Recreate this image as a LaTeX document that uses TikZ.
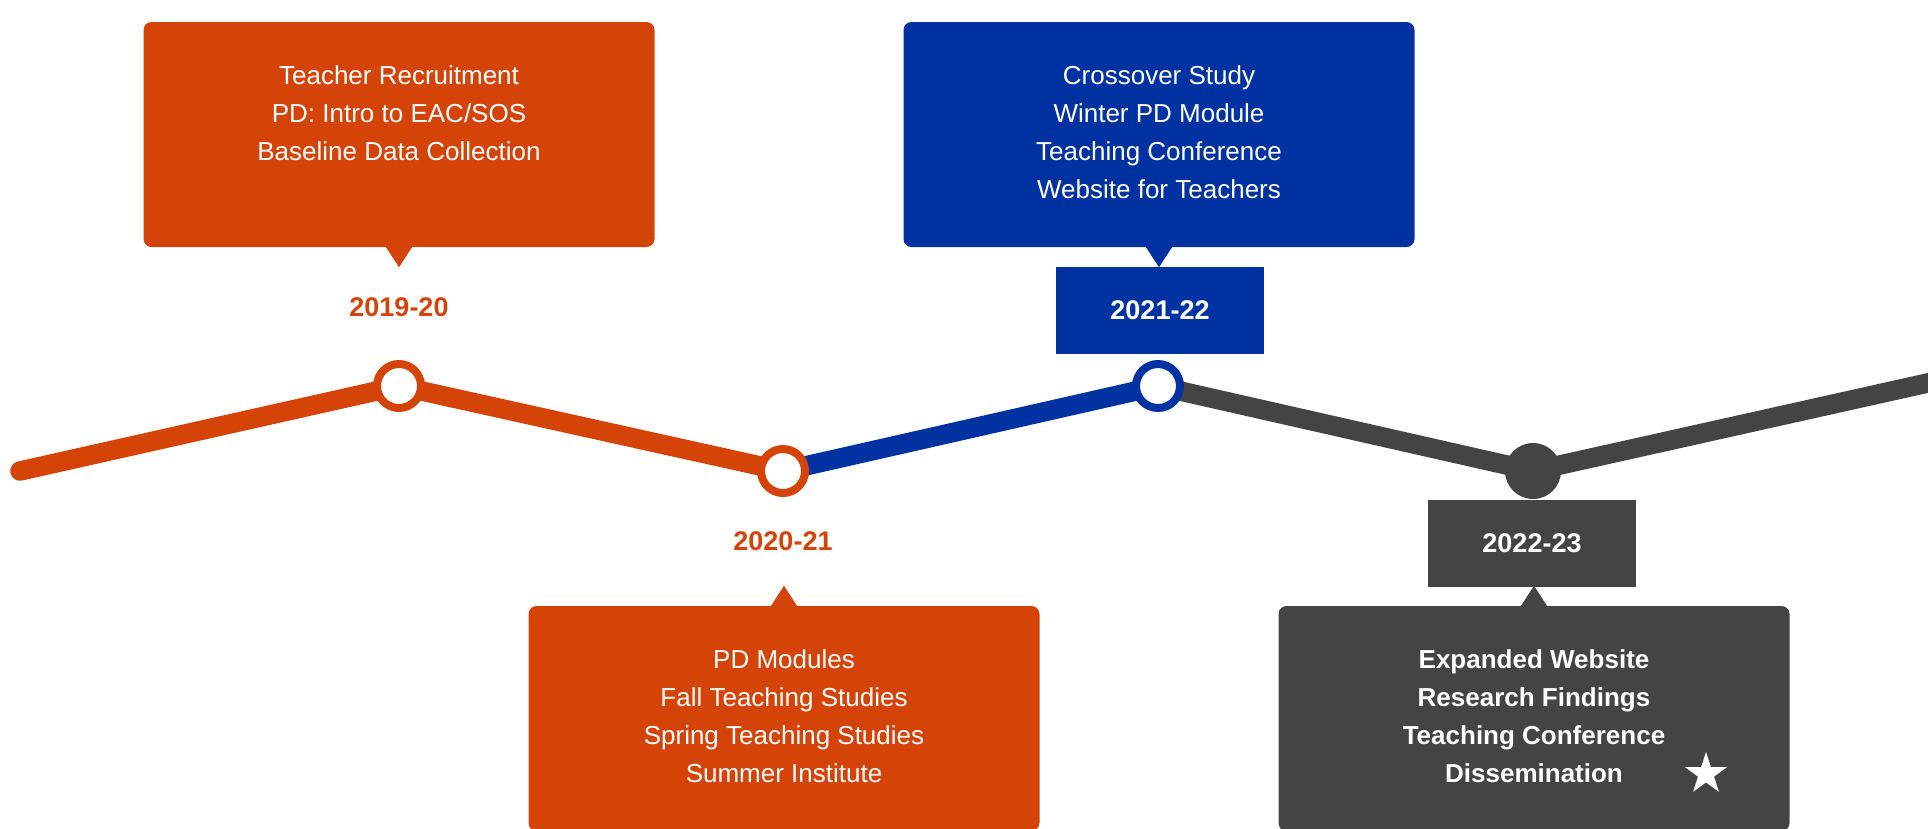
\documentclass[tikz,border=0pt]{standalone}
\usepackage{fontspec}
\setmainfont{Liberation Sans}
\usetikzlibrary{positioning,shapes.geometric}

\definecolor{tlorange}{HTML}{D44308}
\definecolor{tlblue}{HTML}{0033A1}
\definecolor{tlgray}{HTML}{444444}

\begin{document}
\begin{tikzpicture}[x=1pt, y=-1pt,
    font=\fontsize{26}{38}\selectfont,
    infobox/.style={rounded corners=8pt, minimum width=511pt, minimum height=225pt, inner sep=0pt},
    infotext/.style={text=white, align=center, anchor=north, inner sep=0pt},
    yearbox/.style={minimum width=208pt, minimum height=87pt, inner sep=0pt, text=white,
      font=\fontsize{27}{32}\selectfont\bfseries},
    yearlabel/.style={text=tlorange, inner sep=0pt, font=\fontsize{27}{32}\selectfont\bfseries},
    ring/.style={circle, draw=tlorange, line width=8pt, fill=white, minimum size=44pt, inner sep=0pt},
    track/.style={line width=19.5pt}]
  \useasboundingbox (0,0) rectangle (1928,828);
  \clip (0,0) rectangle (1928,828);

  % the zigzag track
  \coordinate (start) at (20,471);
  \coordinate (finish) at (1950,378);
  \foreach \n/\x/\y in {1/399/386, 2/783/471, 3/1158/386, 4/1533/471}
    \coordinate (p\n) at (\x,\y);
  \draw[track, tlorange, line cap=round] (start) -- (p1) -- (p2);
  \draw[track, tlblue] (p2) -- (p3);
  \draw[track, tlgray] (p3) -- (p4) -- (finish);

  \node[ring] (c1) at (p1) {};
  \node[ring] (c2) at (p2) {};
  \node[ring, draw=tlblue] (c3) at (p3) {};
  \node[circle, fill=tlgray, minimum size=56pt, inner sep=0pt] (c4) at (p4) {};

  % call-out boxes
  \foreach \n/\x/\y/\c in {1/399/134.5/tlorange, 2/784/718.5/tlorange,
                           3/1159/134.5/tlblue, 4/1534/718.5/tlgray}
    \node[infobox, fill=\c] (b\n) at (\x,\y) {};
  \fill[tlorange] ([xshift=-13pt]b1.south) -- ([xshift=13pt]b1.south)
    -- ([yshift=-20pt]b1.south) -- cycle;
  \fill[tlblue] ([xshift=-13pt]b3.south) -- ([xshift=13pt]b3.south)
    -- ([yshift=-20pt]b3.south) -- cycle;
  \fill[tlorange] ([xshift=-13pt]b2.north) -- ([xshift=13pt]b2.north)
    -- ([yshift=20pt]b2.north) -- cycle;
  \fill[tlgray] ([xshift=-13pt]b4.north) -- ([xshift=13pt]b4.north)
    -- ([yshift=20pt]b4.north) -- cycle;

  \node[infotext] (t1) at ([yshift=-44pt]b1.north)
    {Teacher Recruitment\\PD: Intro to EAC/SOS\\Baseline Data Collection};
  \node[infotext] (t2) at ([yshift=-44pt]b2.north)
    {PD Modules\\Fall Teaching Studies\\Spring Teaching Studies\\Summer Institute};
  \node[infotext] (t3) at ([yshift=-44pt]b3.north)
    {Crossover Study\\Winter PD Module\\Teaching Conference\\Website for Teachers};
  \node[infotext, font=\fontsize{26}{38}\selectfont\bfseries] (t4) at ([yshift=-44pt]b4.north)
    {Expanded Website\\Research Findings\\Teaching Conference\\Dissemination};
  \node[star, star points=5, star point ratio=2.618, fill=white, minimum size=44pt,
    inner sep=0pt] (mark4) at (1706,774) {};

  % year labels
  \node[yearlabel] (y1) at (399,307) {2019-20};
  \node[yearlabel] (y2) at (783,541) {2020-21};
  \node[yearbox, fill=tlblue] (y3) at (1160,310.5) {2021-22};
  \node[yearbox, fill=tlgray] (y4) at (1532,543.5) {2022-23};
\end{tikzpicture}
\end{document}
